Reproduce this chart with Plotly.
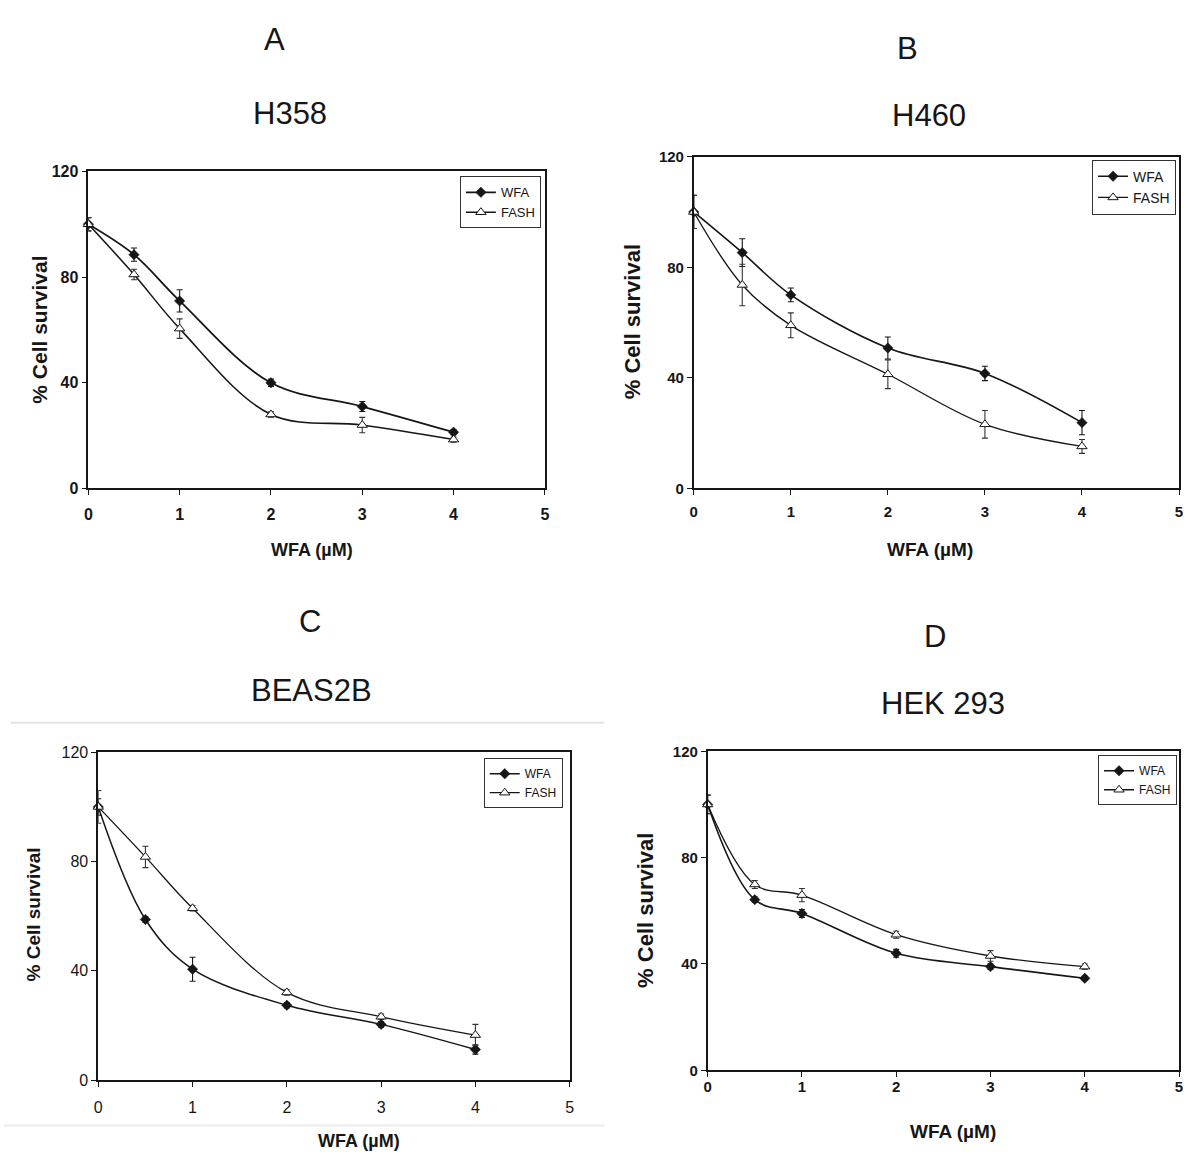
import plotly.graph_objects as go

# ---------------- data ----------------
dose = [0, 0.5, 1, 2, 3, 4]
x_ticks = [0, 1, 2, 3, 4, 5]
y_ticks = [0, 40, 80, 120]

# Panel A : H358
a_wfa = [100, 88.5, 71, 40, 31, 21.3]
a_wfa_err = [2.5, 2.5, 4.2, 1.4, 1.9, 1.0]
a_fash = [100, 81, 60.5, 28, 24, 18.5]
a_fash_err = [2.5, 2.0, 3.7, 1.0, 2.9, 1.0]

# Panel B : H460
b_wfa = [100, 85.3, 70, 50.8, 41.6, 23.8]
b_wfa_err = [6, 5, 2.5, 4, 2.6, 4.4]
b_fash = [100, 73.6, 59, 41.3, 23.2, 15.2]
b_fash_err = [6, 7.5, 4.5, 5.2, 5, 2.5]

# Panel C : BEAS2B
c_wfa = [100, 58.8, 40.6, 27.4, 20.4, 11.2]
c_wfa_err = [3, 1, 4.4, 1, 1, 1.7]
c_fash = [100, 81.7, 62.9, 32.1, 23.2, 16.5]
c_fash_err = [6, 3.9, 1, 1, 1, 3.9]

# Panel D : HEK 293
d_wfa = [100, 64.2, 59, 44, 39, 34.6]
d_wfa_err = [3.5, 1, 1.5, 1.5, 1, 0.8]
d_fash = [100, 69.9, 65.9, 51, 43, 39]
d_fash_err = [3.5, 1.5, 2.5, 1.3, 2, 1]

letters = ["A", "B", "C", "D"]
cell_lines = ["H358", "H460", "BEAS2B", "HEK 293"]
series_names = ["WFA", "FASH"]
x_title = "WFA (µM)"
y_title = "% Cell survival"

# ---------------- layout helpers ----------------
W, H = 1189, 1161
FONT = "Liberation Sans, Arial, sans-serif"
INK = "#161616"


def px(x):
    return min(1.0, max(0.0, x / W))


def py(y):
    return min(1.0, max(0.0, 1 - y / H))


panels = [
    dict(data=(a_wfa, a_wfa_err, a_fash, a_fash_err), box=(85, 545, 165, 487),
         letter=(273, 31), name=(288, 106), xt=(310, 550), yt=(36, 326),
         tickfont=16, tickweight="bold", standoff=6, xtsize=18, ytsize=21, legfont=13,
         leg=(541, 170), lw=1.8),
    dict(data=(b_wfa, b_wfa_err, b_fash, b_fash_err), box=(695, 1184, 150, 487),
         letter=(910, 40), name=(932, 108), xt=(933, 549), yt=(633, 318),
         tickfont=15, tickweight="bold", standoff=4, xtsize=19, ytsize=22, legfont=14,
         leg=(1181, 153), lw=1.6),
    dict(data=(c_wfa, c_wfa_err, c_fash, c_fash_err), box=(95, 570, 755, 1088),
         letter=(308, 622), name=(310, 692), xt=(358, 1150), yt=(30, 920),
         tickfont=16, tickweight="normal", standoff=7, xtsize=18, ytsize=19, legfont=12,
         leg=(563, 761), lw=1.5),
    dict(data=(d_wfa, d_wfa_err, d_fash, d_fash_err), box=(709, 1184, 754, 1078),
         letter=(938, 637), name=(946, 705), xt=(956, 1140), yt=(647, 916),
         tickfont=15, tickweight="bold", standoff=-3, xtsize=19, ytsize=22, legfont=12,
         leg=(1182, 758), lw=1.6),
]

fig = go.Figure()
annotations = []

for i, p in enumerate(panels):
    k = "" if i == 0 else str(i + 1)
    xa, ya = "x" + k, "y" + k
    leg = "legend" + k
    wfa, wfa_err, fash, fash_err = p["data"]

    fig.add_trace(go.Scatter(
        x=dose, y=wfa, name=series_names[0], xaxis=xa, yaxis=ya, legend=leg,
        mode="lines+markers", line=dict(color=INK, width=p["lw"], shape="spline", smoothing=1.0),
        marker=dict(symbol="diamond", size=8, color=INK, line=dict(color=INK, width=0.5)),
        error_y=dict(type="data", array=wfa_err, visible=True, color=INK, thickness=1.1, width=3),
        cliponaxis=False,
    ))
    fig.add_trace(go.Scatter(
        x=dose, y=fash, name=series_names[1], xaxis=xa, yaxis=ya, legend=leg,
        mode="lines+markers", line=dict(color=INK, width=p["lw"] * 0.85, shape="spline", smoothing=1.0),
        marker=dict(symbol="triangle-up", size=9, color="white", line=dict(color=INK, width=1)),
        error_y=dict(type="data", array=fash_err, visible=True, color="#333333", thickness=1.1, width=3),
        cliponaxis=False,
    ))

    x0, x1, y0, y1 = p["box"]
    tf = dict(family=FONT, size=p["tickfont"], color=INK, weight=p["tickweight"])
    axis_common = dict(showline=True, linecolor=INK, linewidth=1.6, mirror=True,
                       ticks="outside", ticklen=5, tickcolor=INK, tickwidth=1,
                       showgrid=False, zeroline=False, tickfont=tf, fixedrange=True)
    fig.update_layout({
        "xaxis" + k: dict(domain=[px(x0), px(x1)], range=[0, 5], tickvals=x_ticks,
                          anchor=ya, ticklabelstandoff=p["standoff"], **axis_common),
        "yaxis" + k: dict(domain=[py(y1), py(y0)], range=[0, 120], tickvals=y_ticks,
                          anchor=xa, **axis_common),
        leg: dict(x=px(p["leg"][0]), y=py(p["leg"][1]), xanchor="right", yanchor="top",
                  xref="paper", yref="paper", bgcolor="white", bordercolor="#333333",
                  borderwidth=1, itemwidth=30, tracegroupgap=0,
                  font=dict(family=FONT, size=p["legfont"], color=INK)),
    })

    annotations += [
        dict(text=letters[i], x=px(p["letter"][0]), y=py(p["letter"][1]), xref="paper", yref="paper",
             showarrow=False, xanchor="center", yanchor="middle",
             font=dict(family=FONT, size=31, color=INK)),
        dict(text=cell_lines[i], x=px(p["name"][0]), y=py(p["name"][1]), xref="paper", yref="paper",
             showarrow=False, xanchor="center", yanchor="middle",
             font=dict(family=FONT, size=31, color=INK)),
        dict(text=x_title, x=px(p["xt"][0]), y=py(p["xt"][1]), xref="paper", yref="paper",
             showarrow=False, xanchor="center", yanchor="middle",
             font=dict(family=FONT, size=p["xtsize"], color=INK, weight="bold")),
        dict(text=y_title, x=px(p["yt"][0]), y=py(p["yt"][1]), xref="paper", yref="paper",
             showarrow=False, xanchor="center", yanchor="middle", textangle=-90,
             font=dict(family=FONT, size=p["ytsize"], color=INK, weight="bold")),
    ]

# faint scan/crop border lines around panel C
shapes = [
    dict(type="line", xref="paper", yref="paper", x0=px(7), x1=px(605), y0=py(725), y1=py(725),
         line=dict(color="#e4e4e4", width=2)),
    dict(type="line", xref="paper", yref="paper", x0=0, x1=px(605), y0=py(1134), y1=py(1134),
         line=dict(color="#ececec", width=2)),
]

fig.update_layout(
    width=W, height=H, margin=dict(l=0, r=0, t=0, b=0),
    paper_bgcolor="white", plot_bgcolor="white",
    annotations=annotations, shapes=shapes,
    font=dict(family=FONT, color=INK),
)

fig.write_html(
    "out.html",
    config={"displayModeBar": False},
    post_script="document.body.style.margin='0';document.documentElement.style.overflow='hidden';",
)
